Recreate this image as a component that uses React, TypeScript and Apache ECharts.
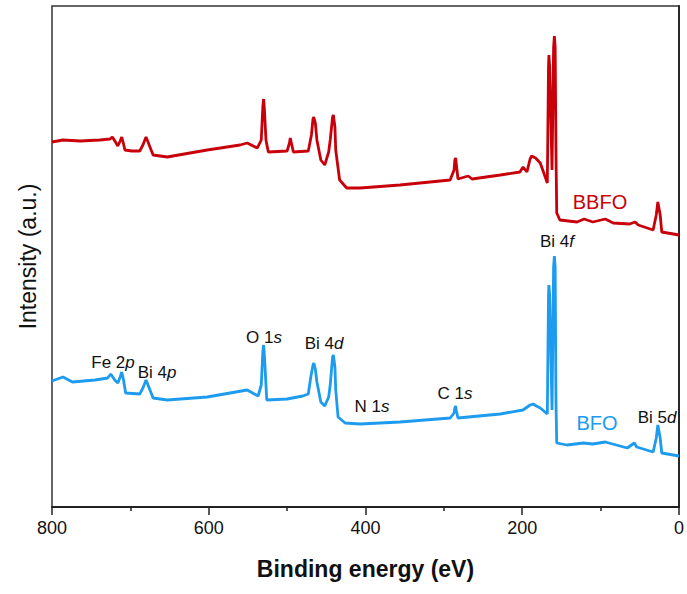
import React, { useEffect, useRef } from "react";
import * as echarts from "echarts";

// Binding energy (eV) vs intensity (a.u.)
const bbfoData: [number, number][] = [
  [800, 365], [786, 367], [764, 366], [739, 367], [726, 368], [723, 370], [719, 365], [716, 361],
  [713, 366], [711, 370], [709, 364], [707, 357], [698, 356], [688, 356], [684, 362], [680, 370],
  [676, 362], [671, 352], [653, 350], [602, 357], [560, 362], [551, 364], [538, 359], [533, 367],
  [531, 400], [530, 408], [529, 398], [527, 367], [524, 355], [500, 356], [497, 364], [496, 369],
  [494, 362], [492, 355], [473, 356], [469, 372], [467, 388], [466, 390], [464, 384], [462, 367],
  [457, 347], [452, 342], [447, 355], [445, 367], [442, 390], [441, 392], [439, 380], [438, 357],
  [433, 327], [424, 319], [407, 319], [356, 322], [292, 327], [287, 337], [286, 347], [285, 349],
  [284, 342], [282, 328], [269, 331], [264, 328], [228, 332], [203, 335], [199, 340], [194, 335],
  [190, 348], [188, 351], [183, 349], [177, 344], [168, 324], [166.5, 440], [166, 452], [165, 440],
  [162, 337], [160, 460], [159, 471], [158, 460], [157, 357], [156, 294], [152, 287], [130, 285],
  [121, 288], [110, 285], [94, 288], [84, 284], [63, 283], [56, 285], [52, 282], [33, 277],
  [29, 292], [27, 305], [24, 292], [22, 275], [0, 272],
];

const bfoData: [number, number][] = [
  [800, 126], [786, 130], [774, 125], [745, 127], [729, 129], [725, 133], [720, 127], [716, 124],
  [713, 130], [711, 135], [709, 128], [706, 114], [688, 113], [684, 119], [680, 127], [676, 119],
  [671, 109], [653, 107], [602, 110], [551, 117], [537, 111], [533, 122], [531, 155], [530, 162],
  [529, 152], [527, 122], [526, 107], [500, 108], [480, 111], [473, 113], [470, 129], [467, 142],
  [466, 144], [464, 138], [462, 125], [457, 105], [452, 101], [447, 110], [445, 122], [442, 150],
  [441, 152], [439, 140], [438, 117], [435, 90], [426, 84], [407, 83], [356, 85], [292, 89],
  [287, 94], [286, 99], [285, 101], [284, 96], [282, 89], [228, 93], [199, 97], [190, 102],
  [186, 103], [182, 101], [177, 99], [168, 93], [166.5, 212], [166, 222], [165, 212], [162, 97],
  [160, 240], [159, 251], [158, 240], [157, 107], [156, 64], [143, 62], [122, 64], [110, 63],
  [94, 65], [66, 59], [57, 64], [54, 60], [33, 55], [29, 69], [27, 82], [24, 69], [22, 54], [0, 51],
];

const xTicks = { min: 0, max: 800, interval: 200 };
const yRange = { min: 0, max: 501 };

const peakLabels: { rich: string; x: number; y: number }[] = [
  { rich: "{n|Fe 2}{i|p}", x: 113, y: 362 },
  { rich: "{n|Bi 4}{i|p}", x: 157, y: 372 },
  { rich: "{n|O 1}{i|s}", x: 264, y: 337 },
  { rich: "{n|Bi 4}{i|d}", x: 324, y: 343 },
  { rich: "{n|N 1}{i|s}", x: 372, y: 406 },
  { rich: "{n|C 1}{i|s}", x: 455, y: 393 },
  { rich: "{n|Bi 4}{i|f}", x: 557, y: 241 },
  { rich: "{n|Bi 5}{i|d}", x: 657, y: 417 },
];

const RED = "#C8000A";
const BLUE = "#1C9BEF";
const FONT = "'Liberation Sans', Arial, sans-serif";

export default function App() {
  const ref = useRef<HTMLDivElement>(null);
  useEffect(() => {
    if (!ref.current) return;
    const chart = echarts.init(ref.current, null, { renderer: "svg" });
    const labelStyle = {
      n: { fontSize: 17, fontFamily: FONT, fill: "#111", fontWeight: "normal" },
      i: { fontSize: 17, fontFamily: FONT, fontStyle: "italic", fill: "#111", fontWeight: "normal" },
    };
    chart.setOption({
      animation: false,
      backgroundColor: "#fff",
      textStyle: { fontFamily: FONT },
      grid: {
        left: 52, right: 8, top: 6, bottom: 87,
        show: true, borderColor: "#333", borderWidth: 1.5, backgroundColor: "transparent",
      },
      xAxis: {
        type: "value",
        min: xTicks.min, max: xTicks.max, interval: xTicks.interval,
        inverse: true,
        name: "Binding energy (eV)",
        nameLocation: "middle",
        nameGap: 50,
        nameTextStyle: { fontSize: 23, fontWeight: "bold", color: "#111", fontFamily: FONT },
        axisLine: { show: true, onZero: false, lineStyle: { color: "#222", width: 1.8 } },
        axisTick: { show: true, length: 8, lineStyle: { color: "#222", width: 1.5 } },
        minorTick: { show: true, splitNumber: 2, length: 4, lineStyle: { color: "#222", width: 1.5 } },
        axisLabel: { fontSize: 18, color: "#111", margin: 12, fontFamily: FONT },
        splitLine: { show: false },
      },
      yAxis: {
        type: "value",
        min: yRange.min, max: yRange.max,
        name: "Intensity (a.u.)",
        nameLocation: "middle",
        nameGap: 13,
        nameTextStyle: { fontSize: 23, color: "#111", fontFamily: FONT },
        axisLine: { show: true, lineStyle: { color: "#222", width: 1.8 } },
        axisTick: { show: false },
        axisLabel: { show: false },
        splitLine: { show: false },
      },
      series: [
        {
          name: "BBFO", type: "line", data: bbfoData, showSymbol: false,
          lineStyle: { color: RED, width: 2.8 }, itemStyle: { color: RED },
        },
        {
          name: "BFO", type: "line", data: bfoData, showSymbol: false,
          lineStyle: { color: BLUE, width: 2.8 }, itemStyle: { color: BLUE },
        },
      ],
      graphic: [
        ...peakLabels.map((l) => ({
          type: "text",
          x: l.x, y: l.y,
          style: {
            text: l.rich, rich: labelStyle, fontSize: 17, fontFamily: FONT, fill: "#111",
            align: "center", verticalAlign: "middle",
          },
        })),
        {
          type: "text", x: 600, y: 202,
          style: { text: "BBFO", fontSize: 20, fontFamily: FONT, fill: RED, align: "center", verticalAlign: "middle" },
        },
        {
          type: "text", x: 597, y: 423,
          style: { text: "BFO", fontSize: 20, fontFamily: FONT, fill: BLUE, align: "center", verticalAlign: "middle" },
        },
      ],
    });
    return () => chart.dispose();
  }, []);
  return <div ref={ref} style={{ width: 687, height: 594, position: "absolute", left: 0, top: 0 }} />;
}
